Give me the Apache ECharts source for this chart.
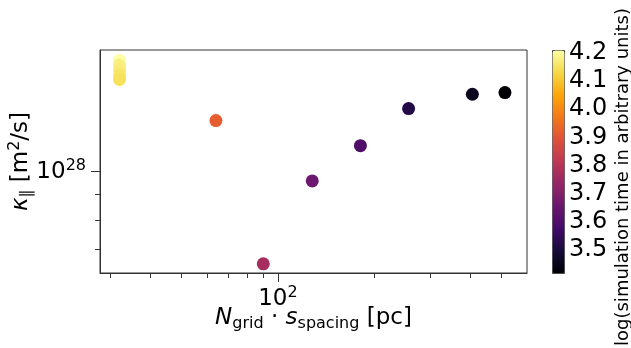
<!DOCTYPE html>
<html>
<head>
<meta charset="utf-8">
<script src="https://cdn.jsdelivr.net/npm/echarts@6/dist/echarts.min.js"></script>
<style>
html, body { margin: 0; padding: 0; background: #fff; }
#main { width: 631px; height: 348px; }
</style>
</head>
<body>
<div id="main"></div>
<script>
// values
var gridSpacing = [32, 32, 32, 32, 32, 64, 90, 128, 181, 256, 405, 512];   // N_grid * s_spacing [pc]
var kappaPar = [1.669e28, 1.635e28, 1.597e28, 1.561e28, 1.529e28, 1.265e28,
                0.654e28, 0.958e28, 1.127e28, 1.337e28, 1.428e28, 1.439e28];   // m^2/s
var logSimTime = [4.21, 4.18, 4.17, 4.16, 4.15, 3.92, 3.77, 3.66, 3.60, 3.52, 3.46, 3.42];

var xMajor = [100];
var xMinor = [30, 40, 50, 60, 70, 80, 90, 200, 300, 400, 500];
var yMajor = [1e28];
var yMinor = [7e27, 8e27, 9e27];
var cbarTicks = [3.5, 3.6, 3.7, 3.8, 3.9, 4.0, 4.1, 4.2];

// inferno colormap
var inferno = ['#000004', '#160b39', '#420a68', '#6a176e', '#932667', '#bc3754',
               '#dd513a', '#f37819', '#fca50a', '#f6d746', '#fcffa4'];

var FONT = 'DejaVu Sans';
var axisCol = '#333';

var points = [];
for (var i = 0; i < gridSpacing.length; i++) {
  points.push([gridSpacing[i], kappaPar[i], logSimTime[i]]);
}

// 10^n label
function powLabel(v) {
  var e = Math.round(Math.log10(v));
  return '{b|10}{sup|' + e + '}';
}
var powRich = {
  b: { fontFamily: FONT, fontSize: 23, lineHeight: 28, color: '#000' },
  sup: { fontFamily: FONT, fontSize: 16, lineHeight: 16, verticalAlign: 'top', color: '#000' }
};

var titleRich = {
  it: { fontFamily: FONT, fontStyle: 'italic', fontSize: 23, lineHeight: 28, color: '#000' },
  n: { fontFamily: FONT, fontSize: 23, lineHeight: 28, color: '#000' },
  sub: { fontFamily: FONT, fontSize: 16, lineHeight: 16, verticalAlign: 'bottom', color: '#000' },
  sup: { fontFamily: FONT, fontSize: 16, lineHeight: 16, verticalAlign: 'top', color: '#000' }
};

var chart = echarts.init(document.getElementById('main'), null, { renderer: 'canvas' });

var option = {
  animation: false,
  backgroundColor: '#fff',
  grid: [
    { left: 100, top: 50, width: 427, height: 223, outerBoundsMode: 'none', containLabel: false,
      show: true, borderColor: axisCol, borderWidth: 1, backgroundColor: 'transparent' },
    { left: 552, top: 50, width: 12, height: 223, outerBoundsMode: 'none', containLabel: false }
  ],
  xAxis: [
    {
      type: 'log', gridIndex: 0, min: 27.8, max: 600, position: 'bottom',
      axisLine: { lineStyle: { color: axisCol, width: 1 } },
      axisTick: { customValues: xMajor, length: 9, lineStyle: { color: axisCol } },
      axisLabel: { customValues: xMajor, formatter: powLabel, rich: powRich, margin: 12 },
      splitLine: { show: false },
      name: '{it|N}{sub|grid}{n| · }{it|s}{sub|spacing}{n| [pc]}',
      nameLocation: 'middle', nameGap: 31, nameMoveOverlap: false,
      nameTextStyle: { rich: titleRich }
    },
    {
      type: 'log', gridIndex: 0, min: 27.8, max: 600, position: 'bottom',
      axisLine: { show: false },
      axisTick: { customValues: xMinor, length: 5, lineStyle: { color: axisCol } },
      axisLabel: { show: false },
      splitLine: { show: false }
    },
    { type: 'value', gridIndex: 1, min: 0, max: 1, show: false }
  ],
  yAxis: [
    {
      type: 'log', gridIndex: 0, min: 0.627e28, max: 1.751e28, position: 'left',
      axisLine: { lineStyle: { color: axisCol, width: 1 } },
      axisTick: { customValues: yMajor, length: 9, lineStyle: { color: axisCol } },
      axisLabel: { customValues: yMajor, formatter: powLabel, rich: powRich, margin: 14 },
      splitLine: { show: false },
      name: '{it|κ}{sub|∥}{n| [m}{sup|2}{n|/s]}',
      nameLocation: 'middle', nameGap: 65, nameRotate: 90, nameMoveOverlap: false,
      nameTextStyle: { rich: titleRich }
    },
    {
      type: 'log', gridIndex: 0, min: 0.627e28, max: 1.751e28, position: 'left',
      axisLine: { show: false },
      axisTick: { customValues: yMinor, length: 5, lineStyle: { color: axisCol } },
      axisLabel: { show: false },
      splitLine: { show: false }
    },
    {
      type: 'value', gridIndex: 1, min: 3.418, max: 4.21, position: 'right',
      axisLine: { show: false },
      axisTick: { customValues: cbarTicks, length: 4, lineStyle: { color: axisCol } },
      axisLabel: {
        customValues: cbarTicks, margin: 5, color: '#000',
        fontFamily: FONT, fontSize: 24,
        formatter: function (v) { return v.toFixed(1); }
      },
      splitLine: { show: false }
    }
  ],
  visualMap: {
    type: 'continuous', seriesIndex: 0, dimension: 2,
    min: 3.418, max: 4.21,
    inRange: { color: inferno },
    left: 552, top: 50, itemWidth: 12, itemHeight: 223,
    calculable: false, padding: 0, text: null,
    borderWidth: 1, borderColor: '#444', backgroundColor: 'transparent'
  },
  graphic: [
    {
      type: 'text', x: 623, y: 177, rotation: Math.PI / 2,
      style: {
        text: 'log(simulation time in arbitrary units)',
        fontFamily: FONT, fontSize: 18, fill: '#000',
        align: 'center', verticalAlign: 'middle'
      }
    }
  ],
  series: [
    {
      type: 'scatter', xAxisIndex: 0, yAxisIndex: 0,
      symbolSize: 13,
      itemStyle: { opacity: 1 },
      data: points
    }
  ]
};

chart.setOption(option);
</script>
</body>
</html>
